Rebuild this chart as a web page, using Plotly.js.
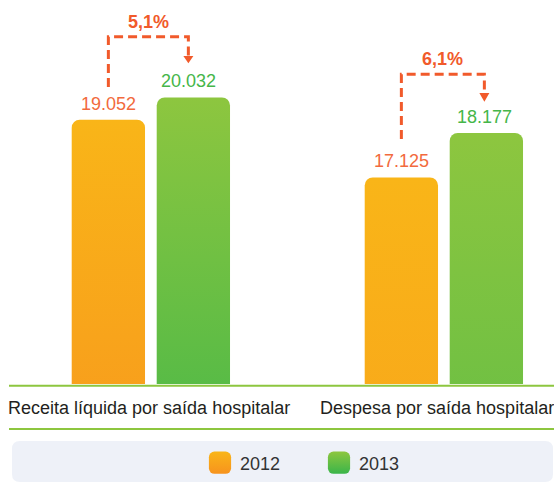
<!DOCTYPE html>
<html><head><meta charset="utf-8">
<script src="https://cdn.plot.ly/plotly-3.0.1.min.js"></script>
<style>html,body{margin:0;padding:0;background:#fff}#chart{width:554px;height:482px}</style>
</head><body><div id="chart"></div>
<script>
// ---- data ----
const categories = ['Receita líquida por saída hospitalar', 'Despesa por saída hospitalar'];
const years = ['2012', '2013'];
const values2012 = [19052, 17125];
const values2013 = [20032, 18177];
const changes = ['5,1%', '6,1%'];

// ---- layout constants ----
const W = 554, H = 482, M = {l: 0, r: 0, t: 0, b: 98};
const PW = W - M.l - M.r, PH = H - M.t - M.b;
const py = p => (PH - (p - M.t)) / PH;          // pixel y -> paper y
const pxp = p => (p - M.l) / PW;                // pixel x -> paper x
const unitPx = 293;                              // px per category step
const barWidth = 0.2502, off2012 = -0.2701, off2013 = 0.02;
const barCenter = (i, off) => i + off + barWidth / 2;
const axisRanges = [[7437, 24312], [12230, 21328]]; // per-group value scales
const colors = {
  '2012': {label: '#F26A3D', top: '#F9B518', bottom: '#F7931E'},
  '2013': {label: '#45B649', top: '#8DC63F', bottom: '#3AB54A'}
};
const arrowColor = '#F15A2B';
// arrow pixel rows per group: start, horizontal, head start, tip
const arrowRows = [[87, 36.7, 56, 63.3], [139, 74.3, 93, 101.7]];
const arrowNudge = [-5, -2];
const fmt = v => String(v).replace(/\B(?=(\d{3})+(?!\d))/g, '.');
const FONT = 'Liberation Sans, Arial, sans-serif';

const series = {'2012': values2012, '2013': values2013};
const offs = {'2012': off2012, '2013': off2013};

const traces = [];
years.forEach(yr => {
  categories.forEach((c, i) => {
    traces.push({
      type: 'bar', name: yr, legendgroup: yr, showlegend: i === 0,
      x: [c], y: [series[yr][i]], yaxis: i === 0 ? 'y' : 'y2',
      width: [barWidth], offset: [offs[yr]],
      marker: {color: colors[yr].bottom, line: {width: 0}, cornerradius: 8},
      hoverinfo: 'skip'
    });
  });
});

const annotations = [];
const shapes = [];
// value labels
years.forEach(yr => {
  categories.forEach((c, i) => {
    annotations.push({
      xref: 'x', yref: i === 0 ? 'y' : 'y2', x: barCenter(i, offs[yr]), y: series[yr][i],
      text: fmt(series[yr][i]), showarrow: false, yanchor: 'bottom', yshift: 4,
      xshift: yr === '2013' ? arrowNudge[i] : 0,
      font: {family: FONT, size: 18, color: colors[yr].label}
    });
  });
});
// category labels
const catShift = [-2, -7];
categories.forEach((c, i) => {
  annotations.push({
    xref: 'x', yref: 'paper', x: i, y: py(408), yanchor: 'middle', xanchor: 'center',
    xshift: catShift[i], text: c, showarrow: false,
    font: {family: FONT, size: 18, color: '#231F20'}
  });
});
// change arrows
categories.forEach((c, i) => {
  const x1 = barCenter(i, off2012);
  const x2 = barCenter(i, off2013) + arrowNudge[i] / unitPx;
  const [s, h, hs, tip] = arrowRows[i];
  shapes.push({
    type: 'path', xref: 'x', yref: 'paper',
    path: `M${x1},${py(s)} L${x1},${py(h)} L${x2},${py(h)} L${x2},${py(hs)}`,
    line: {color: arrowColor, width: 3, dash: '9px,5px'}
  });
  const hw = 5 / unitPx;
  shapes.push({
    type: 'path', xref: 'x', yref: 'paper',
    path: `M${x2 - hw},${py(hs)} L${x2 + hw},${py(hs)} L${x2},${py(tip)} Z`,
    fillcolor: arrowColor, line: {width: 0}
  });
  annotations.push({
    xref: 'x', yref: 'paper', x: (x1 + x2) / 2, y: py(h), yanchor: 'bottom', yshift: 3,
    text: '<b>' + changes[i] + '</b>', showarrow: false,
    font: {family: FONT, size: 18, color: arrowColor}
  });
});
// baseline & separator lines
[385.8, 429].forEach(p => shapes.push({
  type: 'line', xref: 'paper', yref: 'paper', x0: pxp(9), x1: 1, y0: py(p), y1: py(p),
  line: {color: '#8DC63F', width: 2}
}));
// legend background box (rounded)
(function () {
  const x0 = pxp(12), x1 = pxp(553), y0 = py(441), y1 = py(482);
  const rx = 8 / PW, ry = 8 / PH;
  shapes.push({
    type: 'path', xref: 'paper', yref: 'paper', layer: 'below',
    path: `M${x0 + rx},${y0} L${x1 - rx},${y0} Q${x1},${y0} ${x1},${y0 - ry} L${x1},${y1 + ry} Q${x1},${y1} ${x1 - rx},${y1} L${x0 + rx},${y1} Q${x0},${y1} ${x0},${y1 + ry} L${x0},${y0 - ry} Q${x0},${y0} ${x0 + rx},${y0} Z`,
    fillcolor: '#EEF1F8', line: {width: 0}
  });
})();

const gx = -(barCenter(0, off2012) - barWidth / 2) ; // unused helper
const layout = {
  width: W, height: H, margin: M,
  paper_bgcolor: '#fff', plot_bgcolor: 'rgba(0,0,0,0)',
  barmode: 'overlay', showlegend: true,
  xaxis: {type: 'category', categoryarray: categories, range: [-150.85 / unitPx, (W - 150.85) / unitPx],
          showticklabels: false, showgrid: false, zeroline: false, showline: false, fixedrange: true},
  yaxis: {range: axisRanges[0], visible: false, fixedrange: true},
  yaxis2: {range: axisRanges[1], visible: false, overlaying: 'y', fixedrange: true},
  legend: {orientation: 'h', x: pxp(200), xanchor: 'left', y: py(463), yanchor: 'middle',
           bgcolor: 'rgba(0,0,0,0)', font: {family: FONT, size: 18, color: '#333'},
           entrywidthmode: 'pixels', entrywidth: 74, traceorder: 'normal'},
  annotations: annotations, shapes: shapes
};

function decorate(gd) {
  const svg = gd.querySelector('.main-svg');
  if (!svg) return;
  let defs = svg.querySelector('defs');
  const NS = 'http://www.w3.org/2000/svg';
  years.forEach(yr => {
    const id = 'grad' + yr;
    if (document.getElementById(id)) return;
    const g = document.createElementNS(NS, 'linearGradient');
    g.setAttribute('id', id); g.setAttribute('x1', '0'); g.setAttribute('y1', '0');
    g.setAttribute('x2', '0'); g.setAttribute('y2', '1');
    [[0, colors[yr].top], [1, colors[yr].bottom]].forEach(([o, c]) => {
      const s = document.createElementNS(NS, 'stop');
      s.setAttribute('offset', o); s.setAttribute('stop-color', c);
      g.appendChild(s);
    });
    defs.appendChild(g);
  });
  gd.querySelectorAll('.barlayer .trace').forEach(t => {
    const d = t.__data__; if (!d || !d[0]) return;
    const yr = d[0].trace.name;
    t.querySelectorAll('path').forEach(p => { p.style.fill = 'url(#grad' + yr + ')'; });
  });
  gd.querySelectorAll('.legend .traces').forEach(t => {
    const d = t.__data__; if (!d || !d[0]) return;
    const yr = d[0].trace.name;
    t.querySelectorAll('.legendpoints path').forEach(p => {
      if (p.dataset.orig === undefined) p.dataset.orig = p.getAttribute('transform') || '';
      p.setAttribute('transform', p.dataset.orig + ' scale(1.85)');
      p.style.fill = 'url(#grad' + yr + ')';
      p.style.stroke = 'none';
    });
  });
}

const gd = document.getElementById('chart');
Plotly.newPlot(gd, traces, layout, {displayModeBar: false, staticPlot: true}).then(() => {
  decorate(gd);
  gd.on('plotly_afterplot', () => decorate(gd));
});
</script></body></html>
